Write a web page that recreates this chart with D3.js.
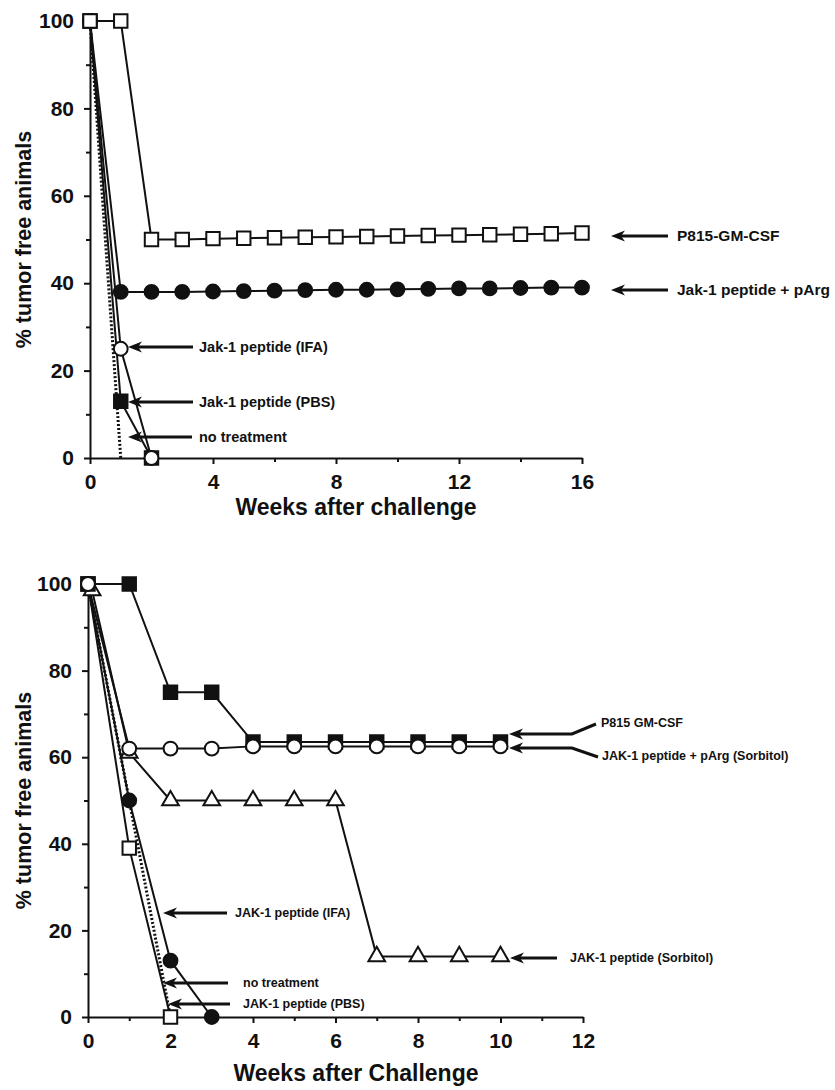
<!DOCTYPE html>
<html>
<head>
<meta charset="utf-8">
<script src="https://cdnjs.cloudflare.com/ajax/libs/d3/7.8.5/d3.min.js"></script>
<style>
  body { margin: 0; background: #fff; }
  svg text { font-family: "Liberation Sans", Arial, sans-serif; font-weight: bold; fill: #111; }
</style>
</head>
<body>
<svg id="chart"></svg>
<script>
// ---- top panel data ----
const topWeeks = [0, 1, 2, 3, 4, 5, 6, 7, 8, 9, 10, 11, 12, 13, 14, 15, 16];
const topP815 = [100, 100, 50, 50, 50.2, 50.3, 50.4, 50.5, 50.6, 50.7, 50.8, 50.9, 51, 51.1, 51.2, 51.3, 51.5];
const topPArg = [100, 38, 38, 38, 38.1, 38.2, 38.3, 38.4, 38.5, 38.5, 38.6, 38.7, 38.8, 38.8, 38.9, 39, 39];
const topIFAWeeks = [0, 1, 2];
const topIFA = [100, 25, 0];
const topPBSWeeks = [0, 1, 2];
const topPBS = [100, 13, 0];
const topNoTxWeeks = [0, 1];
const topNoTx = [100, 0];
const topXTicks = [0, 4, 8, 12, 16];
const topXMinor = [2, 6, 10, 14];

// ---- bottom panel data ----
const botWeeks = [0, 1, 2, 3, 4, 5, 6, 7, 8, 9, 10];
const botP815 = [100, 100, 75, 75, 63.5, 63.5, 63.5, 63.5, 63.5, 63.5, 63.5];
const botPArg = [100, 62, 62, 62, 62.5, 62.5, 62.5, 62.5, 62.5, 62.5, 62.5];
const botSorbWeeks = [0.1, 1, 2, 3, 4, 5, 6, 7, 8, 9, 10];
const botSorb = [98.5, 61, 50, 50, 50, 50, 50, 14, 14, 14, 14];
const botIFAWeeks = [0, 1, 2, 3];
const botIFA = [100, 50, 13, 0];
const botPBSWeeks = [0, 1, 2];
const botPBS = [100, 39, 0];
const botNoTxWeeks = [0, 2];
const botNoTx = [100, 0];
const botXTicks = [0, 2, 4, 6, 8, 10, 12];
const botXMinor = [1, 3, 5, 7, 9, 11];

const yTicks = [0, 20, 40, 60, 80, 100];
const yMinor = [10, 30, 50, 70, 90];

const width = 835, height = 1090;
const svg = d3.select('#chart').attr('width', width).attr('height', height);

const zip = (xs, ys) => xs.map((x, i) => [x, ys[i]]);

// arrow: head at first point, shaft along the rest
function arrow(g, pts) {
  const [tx, ty] = pts[0], [nx, ny] = pts[1];
  const len = Math.hypot(nx - tx, ny - ty);
  const ux = (nx - tx) / len, uy = (ny - ty) / len;
  const px = -uy, py = ux;
  const L = 14, W = 5.5, N = 10;
  g.append('path')
    .attr('d', d3.line()([[tx + ux * N, ty + uy * N], ...pts.slice(1)]))
    .attr('fill', 'none')
    .attr('stroke', '#111')
    .attr('stroke-width', 3);
  g.append('path')
    .attr('d', d3.line()([
      [tx, ty],
      [tx + ux * L + px * W, ty + uy * L + py * W],
      [tx + ux * N, ty + uy * N],
      [tx + ux * L - px * W, ty + uy * L - py * W]
    ]) + 'Z')
    .attr('fill', '#111');
}

function drawPanel(p) {
  const x = d3.scaleLinear().domain(p.xDomain).range(p.xRange);
  const y = d3.scaleLinear().domain([0, 100]).range(p.yRange);
  const g = svg.append('g');

  // minor ticks
  g.append('g').attr('transform', `translate(${p.xRange[0]},0)`)
    .call(d3.axisLeft(y).tickValues(yMinor).tickSize(4).tickFormat(''))
    .call(a => a.select('.domain').remove());
  g.append('g').attr('transform', `translate(0,${p.yRange[0]})`)
    .call(d3.axisBottom(x).tickValues(p.xMinor).tickSize(4).tickFormat(''))
    .call(a => a.select('.domain').remove());

  // major axes
  const ya = g.append('g').attr('transform', `translate(${p.xRange[0]},0)`)
    .call(d3.axisLeft(y).tickValues(yTicks).tickSize(6).tickSizeOuter(0).tickPadding(10));
  const xa = g.append('g').attr('transform', `translate(0,${p.yRange[0]})`)
    .call(d3.axisBottom(x).tickValues(p.xTicks).tickSize(6).tickSizeOuter(0).tickPadding(10));
  [ya, xa].forEach(a => {
    a.selectAll('path, line').attr('stroke', '#111').attr('stroke-width', 2);
    a.selectAll('text').style('font-size', '21px').attr('fill', '#111');
  });
  g.selectAll('.tick line').attr('stroke', '#111').attr('stroke-width', 2);

  // axis titles
  g.append('text')
    .attr('transform', `translate(31,${(p.yRange[0] + p.yRange[1]) / 2}) rotate(-90)`)
    .attr('text-anchor', 'middle')
    .style('font-size', '21.5px')
    .text('% tumor free animals');
  g.append('text')
    .attr('x', 356).attr('y', p.xTitleY)
    .attr('text-anchor', 'middle')
    .style('font-size', '23px')
    .text(p.xTitle);

  const line = d3.line().x(d => x(d[0])).y(d => y(d[1]));

  // series lines
  p.series.forEach(s => {
    g.append('path')
      .attr('d', line(s.pts))
      .attr('fill', 'none')
      .attr('stroke', '#111')
      .attr('stroke-width', s.dotted ? 3 : 2)
      .attr('stroke-dasharray', s.dotted ? '2,2' : null);
  });

  // markers
  const shapes = {
    square: d3.symbol().type(d3.symbolSquare).size(180),
    circle: d3.symbol().type(d3.symbolCircle).size(150),
    triangle: d3.symbol().type(d3.symbolTriangle).size(120)
  };
  p.series.filter(s => s.shape).forEach(s => {
    g.selectAll(null)
      .data(s.pts)
      .enter()
      .append('path')
      .attr('d', shapes[s.shape]())
      .attr('transform', d => `translate(${x(d[0])},${y(d[1])})`)
      .attr('fill', s.filled ? '#111' : '#fff')
      .attr('stroke', '#111')
      .attr('stroke-width', 2);
  });

  // annotation arrows and labels
  p.notes.forEach(n => {
    arrow(g, n.path);
    g.append('text')
      .attr('x', n.tx).attr('y', n.ty)
      .attr('dy', '0.35em')
      .style('font-size', n.size + 'px')
      .text(n.label);
  });
}

// top panel
drawPanel({
  xDomain: [0, 16], xRange: [90, 582], yRange: [458, 21],
  xTicks: topXTicks, xMinor: topXMinor,
  xTitleY: 515, xTitle: 'Weeks after challenge',
  series: [
    { pts: zip(topNoTxWeeks, topNoTx), dotted: true },
    { pts: zip(topPBSWeeks, topPBS), shape: 'square', filled: true },
    { pts: zip(topIFAWeeks, topIFA), shape: 'circle', filled: false },
    { pts: zip(topWeeks, topPArg), shape: 'circle', filled: true },
    { pts: zip(topWeeks, topP815), shape: 'square', filled: false }
  ],
  notes: [
    { path: [[611, 236], [668, 236]], tx: 677, ty: 236, size: 15.5, label: 'P815-GM-CSF' },
    { path: [[611, 290], [668, 290]], tx: 677, ty: 290, size: 15.5, label: 'Jak-1 peptide + pArg' },
    { path: [[128, 347], [193, 347]], tx: 199, ty: 347, size: 14.5, label: 'Jak-1 peptide (IFA)' },
    { path: [[128, 402], [193, 402]], tx: 199, ty: 402, size: 14.5, label: 'Jak-1 peptide (PBS)' },
    { path: [[128, 437], [192, 437]], tx: 199, ty: 437, size: 14.5, label: 'no treatment' }
  ]
});

// bottom panel
drawPanel({
  xDomain: [0, 12], xRange: [88, 583], yRange: [1017, 584],
  xTicks: botXTicks, xMinor: botXMinor,
  xTitleY: 1081, xTitle: 'Weeks after Challenge',
  series: [
    { pts: zip(botNoTxWeeks, botNoTx), dotted: true },
    { pts: zip(botPBSWeeks, botPBS), shape: 'square', filled: false },
    { pts: zip(botIFAWeeks, botIFA), shape: 'circle', filled: true },
    { pts: zip(botSorbWeeks, botSorb), shape: 'triangle', filled: false },
    { pts: zip(botWeeks, botP815), shape: 'square', filled: true },
    { pts: zip(botWeeks, botPArg), shape: 'circle', filled: false }
  ],
  notes: [
    { path: [[509, 734], [572, 734], [596, 724]], tx: 601, ty: 723, size: 12.5, label: 'P815 GM-CSF' },
    { path: [[509, 748], [572, 748], [598, 757]], tx: 602, ty: 756, size: 12.5, label: 'JAK-1 peptide + pArg (Sorbitol)' },
    { path: [[510, 958], [557, 958]], tx: 570, ty: 958, size: 12.5, label: 'JAK-1 peptide (Sorbitol)' },
    { path: [[163, 913], [227, 913]], tx: 235, ty: 913, size: 12.5, label: 'JAK-1 peptide (IFA)' },
    { path: [[163, 983], [228, 983]], tx: 243, ty: 983, size: 12.5, label: 'no treatment' },
    { path: [[168, 1004], [230, 1004]], tx: 243, ty: 1004, size: 12.5, label: 'JAK-1 peptide (PBS)' }
  ]
});
</script>
</body>
</html>
